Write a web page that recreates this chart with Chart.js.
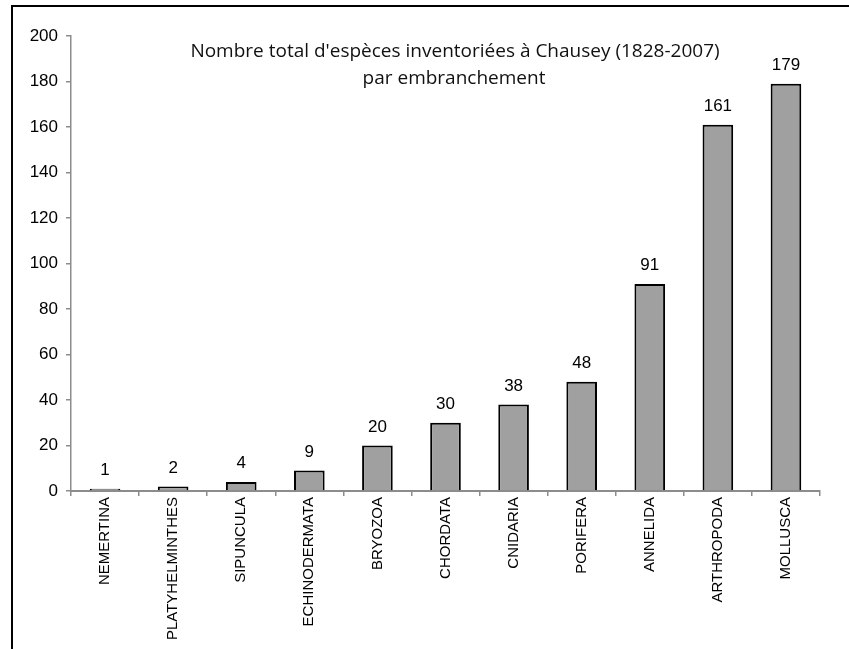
<!DOCTYPE html>
<html>
<head>
<meta charset="utf-8">
<script src="https://cdn.jsdelivr.net/npm/chart.js@4/dist/chart.umd.min.js"></script>
<style>
html,body{margin:0;padding:0;background:#fff;}
#wrap{width:849px;height:649px;position:relative;}
canvas{display:block;}
</style>
</head>
<body>
<div id="wrap"><canvas id="c" width="849" height="649"></canvas></div>
<script>
const categories = ["NEMERTINA","PLATYHELMINTHES","SIPUNCULA","ECHINODERMATA","BRYOZOA","CHORDATA","CNIDARIA","PORIFERA","ANNELIDA","ARTHROPODA","MOLLUSCA"];
const speciesCount = [1, 2, 4, 9, 20, 30, 38, 48, 91, 161, 179];
const yTicks = [0, 20, 40, 60, 80, 100, 120, 140, 160, 180, 200];
const titleLines = ["Nombre total d'espèces inventoriées à Chausey (1828-2007)", "par embranchement"];

const framePlugin = {
  id: 'frame',
  beforeDraw(chart) {
    const ctx = chart.ctx;
    ctx.save();
    ctx.fillStyle = '#fff';
    ctx.fillRect(0, 0, chart.width, chart.height);
    ctx.strokeStyle = '#000';
    ctx.lineWidth = 2;
    ctx.beginPath();
    ctx.moveTo(12, chart.height);
    ctx.lineTo(12, 6);
    ctx.lineTo(chart.width, 6);
    ctx.stroke();
    ctx.restore();
  },
  afterDraw(chart) {
    const ctx = chart.ctx;
    ctx.save();
    ctx.fillStyle = '#111';
    ctx.font = '19px "Open Sans"';
    ctx.textAlign = 'center';
    ctx.textBaseline = 'middle';
    ctx.fillText(titleLines[0], 455, 52);
    ctx.fillText(titleLines[1], 454, 79);
    ctx.font = '17px "Liberation Sans", Arial, sans-serif';
    ctx.textBaseline = 'bottom';
    ctx.fillStyle = '#000';
    const meta = chart.getDatasetMeta(0);
    meta.data.forEach((bar, i) => {
      ctx.fillText(String(speciesCount[i]), bar.x, bar.y - 10);
    });
    ctx.restore();
  }
};

new Chart(document.getElementById('c'), {
  type: 'bar',
  data: {
    labels: categories,
    datasets: [{
      data: speciesCount,
      backgroundColor: '#a0a0a0',
      borderColor: '#000',
      borderWidth: 2,
      barPercentage: 0.45,
      categoryPercentage: 1
    }]
  },
  options: {
    responsive: false,
    animation: false,
    devicePixelRatio: 1,
    layout: { padding: { left: 0, right: 29, top: 36, bottom: 8 } },
    plugins: { legend: { display: false }, title: { display: false }, tooltip: { enabled: false } },
    scales: {
      x: {
        offset: true,
        grid: { display: true, offset: true, drawOnChartArea: false, drawTicks: true, tickLength: 5, color: '#8c8c8c', lineWidth: 1.5 },
        border: { display: true, color: '#8c8c8c', width: 2 },
        ticks: {
          autoSkip: false, minRotation: 90, maxRotation: 90, padding: 1,
          color: '#000', font: { family: '"Liberation Sans", Arial, sans-serif', size: 15 }
        },
        afterFit(scale) { scale.height = 649 - 491 - 8; }
      },
      y: {
        min: 0, max: 200,
        afterBuildTicks(scale) { scale.ticks = yTicks.map(v => ({ value: v })); },
        grid: { display: true, drawOnChartArea: false, drawTicks: true, tickLength: 5, color: '#8c8c8c', lineWidth: 1.5 },
        border: { display: true, color: '#8c8c8c', width: 1.5 },
        ticks: { padding: 8, color: '#000', font: { family: '"Liberation Sans", Arial, sans-serif', size: 17 } },
        afterFit(scale) { scale.width = 71; }
      }
    }
  },
  plugins: [framePlugin]
});
</script>
</body>
</html>
